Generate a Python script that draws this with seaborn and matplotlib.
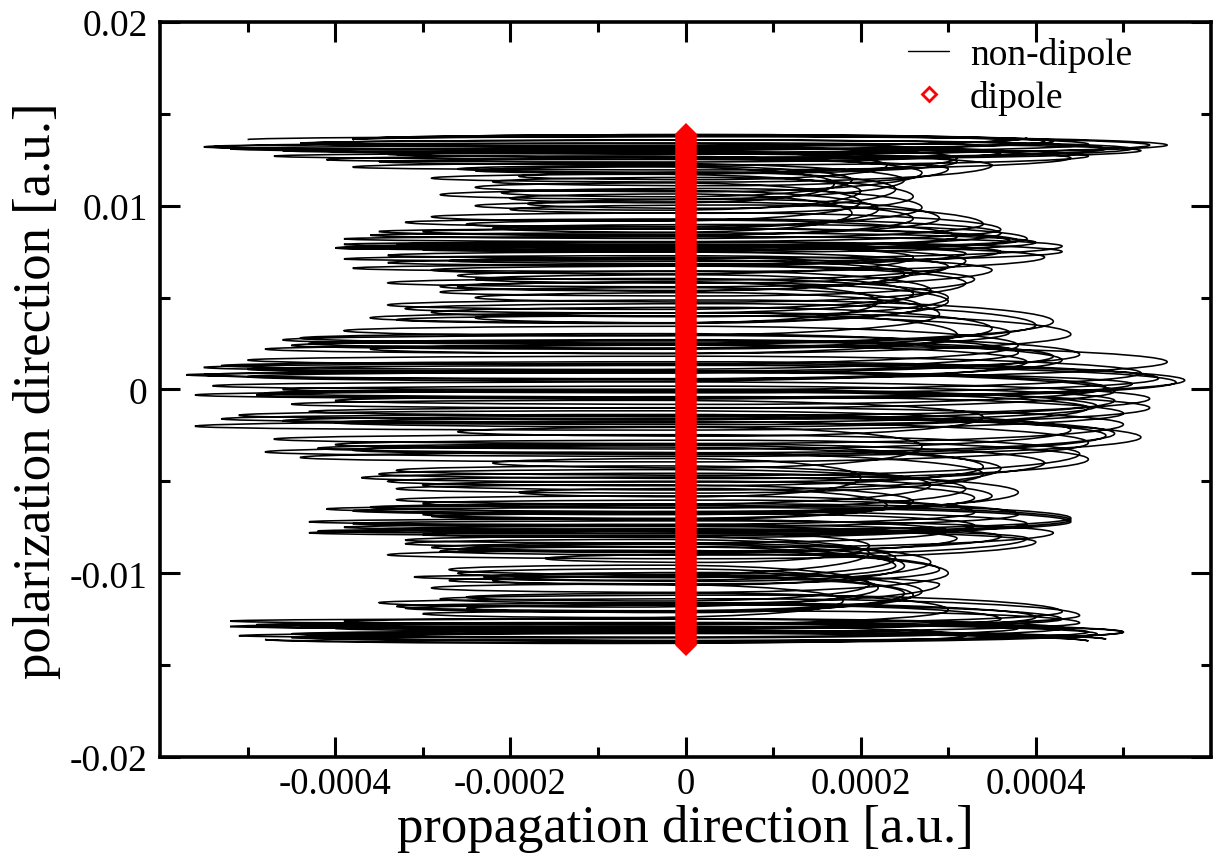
import numpy as np
import matplotlib
matplotlib.use("Agg")
import matplotlib.pyplot as plt
from matplotlib.path import Path
from matplotlib.patches import PathPatch
from matplotlib.lines import Line2D
from matplotlib.ticker import FixedLocator, FuncFormatter
import pandas as pd
import seaborn as sns

# Non-dipole trajectory, given by its successive turning points in the
# propagation direction (x, units of 1e-4 a.u.) and the polarization
# coordinate at each turn (y, units of 1e-3 a.u.), one list per sweep.
sweep1_x = [-5.0, 5.3, -4.2, 4.6, -3.5, 3.0, -2.2, 2.6, -2.0, 3.4, -3.6, 4.0, -3.0, 3.2, -2.6,
            2.8, -3.4, 4.2, -4.4, 3.8, -5.3, 5.4, -4.6, 4.9, -5.1, 4.4, -4.0, 4.6, -3.5, 3.2,
            -3.0, 3.8, -3.8, 4.2, -3.2, 2.4, -2.6, 2.2, -3.5, 4.5, -4.9, 5.0, -4.2]
sweep1_y = [13.6, 13.3, 13.0, 12.7, 12.4, 12.0, 11.3, 10.5, 9.8, 9.0, 8.4, 8.0, 7.6, 7.0, 6.2,
            5.4, 4.6, 3.7, 2.8, 2.0, 1.3, 0.6, 0.0, -0.6, -1.4, -2.2, -3.0, -3.8, -4.6, -5.4,
            -6.2, -6.8, -7.3, -7.8, -8.4, -9.2, -10.0, -10.8, -11.6, -12.3, -12.8, -13.2, -13.5]

sweep2_x = [4.8, -4.5, 3.8, -5.2, 4.3, -2.8, 2.9, -3.1, 2.4, -2.8, 3.9, -4.2, 4.4, -3.8, 3.3,
            -3.0, 3.6, -4.8, 5.2, -4.0, 4.6, -5.6, 5.6, -5.0, 4.2, -4.3, 3.5, -2.9, 3.0, -3.4,
            3.5, -3.9, 4.3, -3.3, 3.1, -2.5, 2.2, -2.8, 2.5, -3.8, 4.4, -4.6, 5.5, -3.8]
sweep2_y = [-13.6, -13.3, -13.0, -12.6, -12.1, -11.4, -10.6, -10.2, -9.6, -8.8, -8.1, -7.7, -7.2,
            -6.6, -5.9, -5.2, -4.3, -3.4, -2.6, -1.8, -1.0, -0.3, 0.4, 1.1, 1.8, 2.5, 3.3, 4.2,
            5.0, 5.8, 6.5, 7.1, 7.5, 7.9, 8.3, 9.0, 9.8, 10.6, 11.4, 12.1, 12.6, 13.0, 13.3, 13.6]

sweep3_x = [4.2, -5.4, 3.6, -4.1, 2.7, -2.4, 2.0, -2.9, 3.6, -3.9, 4.3, -3.4, 3.0, -2.4, 2.6,
            -3.2, 4.0, -4.6, 4.5, -5.5, 5.7, -4.8, 4.7, -5.3, 4.9, -4.2, 4.1, -3.7, 3.8, -3.6,
            4.4, -3.9, 3.6, -2.9, 2.8, -2.3, 2.7, -3.3, 4.0, -4.4, 4.7, -4.8]
sweep3_y = [13.5, 13.2, 12.9, 12.5, 11.8, 11.0, 10.2, 9.4, 8.7, 8.2, 7.8, 7.3, 6.7, 6.0, 5.2,
            4.4, 3.5, 2.7, 1.9, 1.2, 0.5, -0.2, -0.9, -1.6, -2.4, -3.2, -4.0, -4.8, -5.6, -6.4,
            -7.0, -7.5, -8.0, -8.6, -9.4, -10.2, -11.0, -11.8, -12.4, -12.9, -13.3, -13.6]

sweep4_x = [3.2, -4.0, 4.5, -3.0, 1.8, -2.9, 3.0, -1.6, 2.1, -3.0, 3.3, -2.9, 2.3, -1.9, 2.0,
            -2.2, 2.7, -2.6, 3.4, -4.5, 4.9, -5.0, 3.9, -3.6, 3.1, -2.4, 2.2, -2.6, 2.5, -3.4,
            3.2, -3.7, 3.9, -2.2, 1.9, -2.0, 1.7, -2.4, 3.1, -3.3, 4.8, -4.3]
sweep4_y = [-13.4, -13.0, -12.7, -12.2, -11.5, -10.8, -10.0, -9.2, -8.5, -7.9, -7.4, -6.9, -6.3,
            -5.6, -4.8, -4.0, -3.1, -2.3, -1.5, -0.8, -0.1, 0.7, 1.5, 2.2, 3.0, 3.9, 4.8, 5.6,
            6.3, 6.9, 7.4, 7.8, 8.2, 8.8, 9.6, 10.4, 11.2, 11.9, 12.4, 12.8, 13.1, 13.4]

sweep5_x = [3.9, -4.4, 5.1, -3.4, 2.3, -1.9, 2.4, -1.8, 2.9, -3.5, 3.7, -4.0, 2.6, -2.9, 3.2,
            -2.4, 2.9, -3.9, 3.8, -5.0, 5.2, -5.4, 5.3, -4.3, 5.0, -4.7, 4.5, -3.3, 2.8, -3.3,
            3.3, -4.3, 3.0, -3.2, 2.1, -2.7, 2.1, -2.5, 3.0, -3.9, 4.3, -5.1, 4.6]
sweep5_y = [13.7, 13.4, 13.1, 12.8, 12.2, 11.6, 10.9, 10.1, 9.3, 8.6, 8.1, 7.7, 7.2, 6.5, 5.8,
            5.0, 4.1, 3.2, 2.4, 1.6, 0.9, 0.2, -0.5, -1.2, -1.9, -2.7, -3.5, -4.4, -5.2, -6.0,
            -6.7, -7.2, -7.7, -8.2, -8.9, -9.8, -10.6, -11.3, -12.0, -12.6, -13.0, -13.4, -13.7]

sweep6_x = [-4.5, 5.0, -5.0, 3.6, -2.5, 2.5, -2.7, 2.9, -3.4, 4.0, -4.3, 3.9, -3.0, 2.6, -3.3,
            3.4, -4.4, 4.6, -5.6, 5.0, -4.0, 4.8, -5.5, 4.3, -4.5, 3.7, -3.3, 2.7, -2.8, 3.3,
            -3.8, 4.1, -4.0, 3.8, -3.0, 2.6, -2.4, 2.0, -2.9, 3.5, -4.7, 5.2, -5.5, 4.1]
sweep6_y = [-13.5, -13.2, -12.9, -12.5, -11.9, -11.1, -10.4, -9.8, -9.0, -8.3, -7.8, -7.3, -6.8,
            -6.1, -5.4, -4.6, -3.7, -2.9, -2.0, -1.3, -0.6, 0.1, 0.8, 1.6, 2.4, 3.1, 3.8, 4.5,
            5.3, 6.0, 6.6, 7.2, 7.7, 8.1, 8.6, 9.3, 10.0, 10.8, 11.5, 12.2, 12.7, 13.0, 13.2, 13.5]

sweep7_x = [-3.8, 4.6, -5.2, 3.1, -2.6, 1.9, -2.1, 2.7, -3.2, 3.6, -3.9, 3.6, -2.7, 2.6, -2.8,
            3.0, -3.6, 4.4, -4.8, 5.5, -5.7, 5.1, -4.9, 5.3, -4.6, 4.8, -3.8, 3.4, -3.4, 3.5,
            -4.1, 4.4, -3.5, 3.1, -2.6, 2.5, -2.2, 2.6, -3.2, 4.3, -5.2, 4.6, -4.4]
sweep7_y = [13.6, 13.35, 13.1, 12.6, 12.0, 11.4, 10.7, 9.9, 9.1, 8.5, 7.9, 7.5, 7.0, 6.4, 5.6,
            4.8, 3.9, 3.0, 2.2, 1.5, 0.8, 0.3, -0.3, -1.0, -1.7, -2.5, -3.3, -4.2, -5.0, -5.8,
            -6.5, -7.1, -7.6, -8.1, -8.7, -9.6, -10.4, -11.2, -11.9, -12.5, -12.9, -13.2, -13.5]

# Dipole trajectory: stays on the polarization axis between its two extremes
dipole_x = [0.0, 0.0]
dipole_y = [-0.0139, 0.0139]

x_major = [-0.0004, -0.0002, 0.0, 0.0002, 0.0004]
x_minor = [-0.0005, -0.0003, -0.0001, 0.0001, 0.0003, 0.0005]
y_major = [-0.02, -0.01, 0.0, 0.01, 0.02]
y_minor = [-0.015, -0.005, 0.005, 0.015]

series_labels = ["non-dipole", "dipole"]

sns.set_theme(style="ticks")
plt.rcParams["font.family"] = ["Liberation Serif", "DejaVu Serif"]
plt.rcParams["axes.unicode_minus"] = False
for key in ["text.color", "axes.labelcolor", "xtick.color", "ytick.color",
            "axes.edgecolor"]:
    plt.rcParams[key] = "black"

fig = plt.figure(figsize=(12.19, 8.54), dpi=100)
ax = fig.add_axes([0.1313, 0.1124, 0.8621, 0.8607])

# --- non-dipole path ---
# Each swing between two turning points is drawn as half of an elongated
# ellipse (two quarter arcs), so consecutive swings close into loops.
KAPPA = 0.5523
MIN_BULGE = 0.00032
sweeps_x = [sweep1_x, sweep2_x, sweep3_x, sweep4_x, sweep5_x, sweep6_x, sweep7_x]
sweeps_y = [sweep1_y, sweep2_y, sweep3_y, sweep4_y, sweep5_y, sweep6_y, sweep7_y]
tx = np.concatenate(sweeps_x) * 1e-4
ty = np.concatenate(sweeps_y) * 1e-3
verts = [(tx[0], ty[0])]
codes = [Path.MOVETO]
side = 1.0
for i in range(len(tx) - 1):
    x0, y0, x1, y1 = tx[i], ty[i], tx[i + 1], ty[i + 1]
    bulge = max(MIN_BULGE, 0.8 * abs(y1 - y0))
    # bulge on the side that keeps the loops turning the same way
    s = side if x1 > x0 else -side
    mx, my = 0.5 * (x0 + x1), 0.5 * (y0 + y1) + s * bulge
    verts += [(x0, y0 + KAPPA * (my - y0)), (mx - KAPPA * (mx - x0), my), (mx, my),
              (mx + KAPPA * (x1 - mx), my), (x1, y1 + KAPPA * (my - y1)), (x1, y1)]
    codes += [Path.CURVE4] * 6
    if i + 1 < len(tx) - 1 and np.sign(ty[i + 2] - y1) != np.sign(y1 - y0):
        side = -side
ax.add_patch(PathPatch(Path(verts, codes), facecolor="none", edgecolor="black",
                       lw=1.15, zorder=2))

# --- dipole trajectory ---
dip = pd.DataFrame({"x": dipole_x, "y": dipole_y})
sns.lineplot(data=dip, x="x", y="y", ax=ax, sort=False, estimator=None, color="red",
             linewidth=15.5, marker="D", markersize=11.2, markeredgewidth=0,
             solid_capstyle="butt", legend=False, zorder=3)

ax.set_xlim(-0.0006, 0.0006)
ax.set_ylim(-0.02, 0.02)

ax.xaxis.set_major_locator(FixedLocator(x_major))
ax.xaxis.set_minor_locator(FixedLocator(x_minor))
ax.yaxis.set_major_locator(FixedLocator(y_major))
ax.yaxis.set_minor_locator(FixedLocator(y_minor))


def plain(v, pos):
    if abs(v) < 1e-12:
        return "0"
    return ("%.4f" % v).rstrip("0")


ax.xaxis.set_major_formatter(FuncFormatter(plain))
ax.yaxis.set_major_formatter(FuncFormatter(plain))

for s in ax.spines.values():
    s.set_linewidth(2.6)
    s.set_color("black")
ax.tick_params(which="both", direction="in", top=True, right=True, color="black",
               width=2.2)
ax.tick_params(which="major", length=14.4)
ax.tick_params(which="minor", length=7.2)
ax.tick_params(axis="x", which="major", labelsize=26.5, pad=7)
ax.tick_params(axis="y", which="major", labelsize=27, pad=9)

ax.set_xlabel("propagation direction [a.u.]", fontsize=38, labelpad=2)
ax.set_ylabel("polarization direction [a.u.]", fontsize=38, labelpad=6)

handles = [Line2D([], [], color="black", lw=1.0),
           Line2D([], [], color="red", lw=0, marker="D", markersize=7,
                  markerfacecolor="white", markeredgecolor="red", markeredgewidth=2)]
ax.legend(handles, series_labels, loc="upper left", bbox_to_anchor=(0.7117, 0.979),
          frameon=False, fontsize=27, handlelength=1.1, handletextpad=0.55,
          labelspacing=0.2, borderpad=0, borderaxespad=0)

ax.set_facecolor("white")
fig.patch.set_facecolor("white")
fig.savefig("out.png", dpi=100)
